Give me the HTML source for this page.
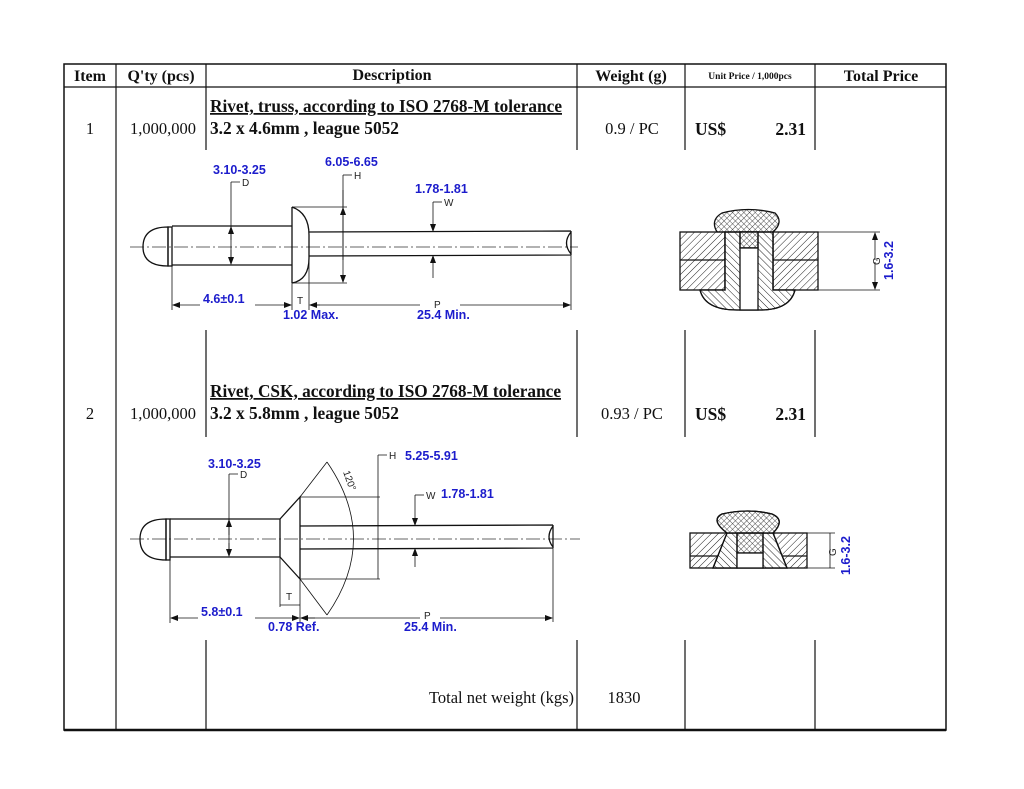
<!DOCTYPE html>
<html><head><meta charset="utf-8"><style>
html,body{margin:0;padding:0;background:#fff;}
svg{display:block;}
.s{font-family:"Liberation Serif",serif;fill:#111;}
.b{font-family:"Liberation Sans",sans-serif;font-weight:bold;fill:#1c1ccc;font-size:12.5px;}
.k{font-family:"Liberation Sans",sans-serif;fill:#222;font-size:10px;}
.ln{stroke:#111;fill:none;stroke-width:1.3;}
.th{stroke:#111;fill:none;stroke-width:0.8;}
.cl{stroke:#333;stroke-width:0.8;stroke-dasharray:14 3 2 3;fill:none;}
</style></head><body>
<svg width="1024" height="789" viewBox="0 0 1024 789" xmlns="http://www.w3.org/2000/svg">
<defs>
<marker id="a" markerWidth="8" markerHeight="6" refX="7" refY="3" orient="auto" markerUnits="userSpaceOnUse"><path d="M0,0 L8,3 L0,6 Z" fill="#111"/></marker>
<pattern id="h1" width="5" height="5" patternUnits="userSpaceOnUse" patternTransform="rotate(45)"><line x1="0" y1="0" x2="0" y2="5" stroke="#222" stroke-width="1"/></pattern>
<pattern id="h2" width="5" height="5" patternUnits="userSpaceOnUse" patternTransform="rotate(-45)"><line x1="0" y1="0" x2="0" y2="5" stroke="#222" stroke-width="1"/></pattern>
<pattern id="hx" width="4" height="4" patternUnits="userSpaceOnUse" patternTransform="rotate(45)"><path d="M0,0 V4 M0,0 H4" stroke="#222" stroke-width="0.8"/></pattern>
</defs>
<rect width="1024" height="789" fill="#fff"/>
<g stroke="#111" fill="none">
<rect x="64" y="64" width="882" height="666" stroke-width="1.5"/>
<line x1="64" y1="730" x2="946" y2="730" stroke-width="2.5"/>
<line x1="64" y1="87" x2="946" y2="87" stroke-width="1.2"/>
<line x1="116" y1="64" x2="116" y2="730" stroke-width="1.2"/>
<g stroke-width="1.2">
<line x1="206" y1="64" x2="206" y2="150"/><line x1="206" y1="330" x2="206" y2="437"/><line x1="206" y1="640" x2="206" y2="730"/>
<line x1="577" y1="64" x2="577" y2="150"/><line x1="577" y1="330" x2="577" y2="437"/><line x1="577" y1="640" x2="577" y2="730"/>
<line x1="685" y1="64" x2="685" y2="150"/><line x1="685" y1="330" x2="685" y2="437"/><line x1="685" y1="640" x2="685" y2="730"/>
<line x1="815" y1="64" x2="815" y2="150"/><line x1="815" y1="330" x2="815" y2="437"/><line x1="815" y1="640" x2="815" y2="730"/>
</g></g>
<g class="s" font-weight="bold" font-size="16">
<text x="90" y="81" text-anchor="middle">Item</text>
<text x="161" y="81" text-anchor="middle">Q'ty (pcs)</text>
<text x="392" y="80" text-anchor="middle">Description</text>
<text x="631" y="81" text-anchor="middle">Weight (g)</text>
<text x="750" y="79" text-anchor="middle" font-size="9.5">Unit Price / 1,000pcs</text>
<text x="881" y="81" text-anchor="middle">Total Price</text>
</g>
<g class="s" font-weight="bold" font-size="17.5">
<text x="210" y="112" text-decoration="underline" textLength="352" lengthAdjust="spacingAndGlyphs">Rivet, truss, according to ISO 2768-M tolerance</text>
<text x="210" y="134" textLength="189" lengthAdjust="spacingAndGlyphs">3.2 x 4.6mm , league 5052</text>
<text x="695" y="135">US$</text><text x="806" y="135" text-anchor="end">2.31</text>
<text x="210" y="397" text-decoration="underline" textLength="351" lengthAdjust="spacingAndGlyphs">Rivet, CSK, according to ISO 2768-M tolerance</text>
<text x="210" y="419" textLength="189" lengthAdjust="spacingAndGlyphs">3.2 x 5.8mm , league 5052</text>
<text x="695" y="420">US$</text><text x="806" y="420" text-anchor="end">2.31</text>
</g>
<g class="s" font-size="16.5">
<text x="90" y="134" text-anchor="middle">1</text>
<text x="163" y="134" text-anchor="middle">1,000,000</text>
<text x="632" y="134" text-anchor="middle">0.9 / PC</text>
<text x="90" y="419" text-anchor="middle">2</text>
<text x="163" y="419" text-anchor="middle">1,000,000</text>
<text x="632" y="419" text-anchor="middle">0.93 / PC</text>
<text x="574" y="703" text-anchor="end">Total net weight (kgs)</text>
<text x="624" y="703" text-anchor="middle">1830</text>
</g>

<!-- Rivet 1 -->
<line class="cl" x1="130" y1="247" x2="578" y2="247"/>
<path class="ln" d="M168,227 Q143,227 143,247 Q143,266 168,266 Z"/>
<rect class="ln" x="168" y="227" width="4" height="39"/>
<path class="ln" d="M172,226 L292,226 M172,265 L292,265"/>
<path class="ln" d="M292,207 L292,283 M292,207 Q309,213 309,235 L309,258 Q309,280 292,283"/>
<path class="ln" d="M309,232 L571,231 M309,256 L571,255 M571,231 L571,255 M571,232 Q562,243 571,254"/>
<path class="th" d="M292,207 L347,207 M292,283 L347,283"/>
<line class="th" x1="343" y1="175" x2="343" y2="207" /><line class="th" x1="343" y1="175" x2="352" y2="175"/>
<line class="th" x1="343" y1="190" x2="343" y2="282" marker-end="url(#a)"/>
<line class="th" x1="343" y1="260" x2="343" y2="208" marker-end="url(#a)"/>
<text class="k" x="354" y="179">H</text>
<text class="b" x="325" y="166">6.05-6.65</text>
<path class="th" d="M231,182 L231,264 M231,182 L240,182"/>
<line class="th" x1="231" y1="240" x2="231" y2="227" marker-end="url(#a)"/>
<line class="th" x1="231" y1="250" x2="231" y2="264" marker-end="url(#a)"/>
<text class="k" x="242" y="186">D</text>
<text class="b" x="213" y="174">3.10-3.25</text>
<path class="th" d="M433,202 L442,202"/>
<line class="th" x1="433" y1="202" x2="433" y2="231" marker-end="url(#a)"/>
<line class="th" x1="433" y1="278" x2="433" y2="256" marker-end="url(#a)"/>
<text class="k" x="444" y="206">W</text>
<text class="b" x="415" y="193">1.78-1.81</text>
<path class="th" d="M172,265 L172,310 M292,283 L292,310 M309,258 L309,310 M571,255 L571,310"/>
<line class="th" x1="200" y1="305" x2="173" y2="305" marker-end="url(#a)"/>
<line class="th" x1="255" y1="305" x2="291" y2="305" marker-end="url(#a)"/>
<line class="th" x1="320" y1="305" x2="310" y2="305" marker-end="url(#a)"/>
<line class="th" x1="460" y1="305" x2="570" y2="305" marker-end="url(#a)"/>
<line class="th" x1="310" y1="305" x2="420" y2="305"/>
<text class="b" x="203" y="303">4.6±0.1</text>
<text class="k" x="297" y="304">T</text>
<text class="k" x="434" y="308">P</text>
<text class="b" x="283" y="319">1.02 Max.</text>
<text class="b" x="417" y="319">25.4 Min.</text>

<!-- Rivet 2 -->
<line class="cl" x1="130" y1="539" x2="580" y2="539"/>
<path class="ln" d="M166,519 Q140,519 140,539 Q140,560 166,560 Z"/>
<rect class="ln" x="166" y="519" width="4" height="41"/>
<path class="ln" d="M170,519 L280,519 M170,557 L280,557 M280,519 L280,557"/>
<path class="ln" d="M280,519 L300,497 L300,579 L280,557"/>
<path class="th" d="M300,497 L327,462 M300,579 L327,615"/>
<path class="th" d="M327,462 Q380,539 327,615"/>
<text class="k" transform="translate(343,472) rotate(70)">120°</text>
<path class="ln" d="M300,526 L553,525 M300,549 L553,548 M553,525 L553,548 M553,526 Q545,537 553,547"/>
<path class="th" d="M300,497 L380,497 M300,579 L380,579"/>
<path class="th" d="M378,455 L378,579 M378,455 L387,455"/>
<text class="k" x="389" y="459">H</text>
<text class="b" x="405" y="460">5.25-5.91</text>
<path class="th" d="M415,495 L424,495"/>
<line class="th" x1="415" y1="495" x2="415" y2="525" marker-end="url(#a)"/>
<line class="th" x1="415" y1="567" x2="415" y2="549" marker-end="url(#a)"/>
<text class="k" x="426" y="499">W</text>
<text class="b" x="441" y="498">1.78-1.81</text>
<path class="th" d="M229,474 L229,556 M229,474 L238,474"/>
<line class="th" x1="229" y1="535" x2="229" y2="520" marker-end="url(#a)"/>
<line class="th" x1="229" y1="543" x2="229" y2="556" marker-end="url(#a)"/>
<text class="k" x="240" y="478">D</text>
<text class="b" x="208" y="468">3.10-3.25</text>
<path class="th" d="M280,557 L280,607 M300,579 L300,622 M170,557 L170,623 M553,548 L553,622"/>
<line class="th" x1="280" y1="605" x2="300" y2="605"/>
<text class="k" x="286" y="600">T</text>
<line class="th" x1="198" y1="618" x2="171" y2="618" marker-end="url(#a)"/>
<line class="th" x1="255" y1="618" x2="299" y2="618" marker-end="url(#a)"/>
<line class="th" x1="315" y1="618" x2="301" y2="618" marker-end="url(#a)"/>
<line class="th" x1="440" y1="618" x2="552" y2="618" marker-end="url(#a)"/>
<line class="th" x1="301" y1="618" x2="420" y2="618"/>
<text class="b" x="201" y="616">5.8±0.1</text>
<text class="k" x="424" y="619">P</text>
<text class="b" x="268" y="631">0.78 Ref.</text>
<text class="b" x="404" y="631">25.4 Min.</text>

<!-- section 1 -->
<g stroke="#111" stroke-width="1.3">
<rect x="680" y="232" width="45" height="58" fill="url(#h1)"/>
<line x1="680" y1="260" x2="725" y2="260"/>
<rect x="773" y="232" width="45" height="58" fill="url(#h1)"/>
<line x1="773" y1="260" x2="818" y2="260"/>
<path d="M700,290 L725,290 L725,232 L773,232 L773,290 L795,290 Q790,310 760,310 L737,310 Q705,310 700,290 Z" fill="#fff"/>
<path d="M700,290 L725,290 L725,232 L773,232 L773,290 L795,290 Q790,310 760,310 L737,310 Q705,310 700,290 Z" fill="url(#h2)"/>
<path d="M725,232 L717,232 Q710,220 722,213 Q748,206 775,213 Q784,222 773,232 Z" fill="url(#hx)"/>
<rect x="740" y="232" width="18" height="16" fill="#fff"/>
<rect x="740" y="232" width="18" height="16" fill="url(#hx)"/>
<rect x="740" y="248" width="18" height="62" fill="#fff"/>
</g>
<path class="th" d="M818,232 L880,232 M818,290 L880,290"/>
<line class="th" x1="875" y1="260" x2="875" y2="233" marker-end="url(#a)"/>
<line class="th" x1="875" y1="262" x2="875" y2="289" marker-end="url(#a)"/>
<text class="k" transform="translate(880,265) rotate(-90)" font-size="9">G</text>
<text class="b" transform="translate(893,280) rotate(-90)" font-size="12">1.6-3.2</text>
<!-- section 2 -->
<g stroke="#111" stroke-width="1.3">
<rect x="690" y="533" width="117" height="35" fill="url(#h1)"/>
<line x1="690" y1="556" x2="807" y2="556"/>
<path d="M727,533 L773,533 L787,568 L713,568 Z" fill="#fff"/>
<path d="M727,533 L737,533 L737,568 L713,568 Z M763,533 L773,533 L787,568 L763,568 Z" fill="url(#h2)"/>
<path d="M727,533 Q710,520 722,514 Q748,508 772,514 Q786,520 773,533 Z" fill="#fff"/>
<path d="M727,533 Q710,520 722,514 Q748,508 772,514 Q786,520 773,533 Z" fill="url(#hx)"/>
<rect x="737" y="533" width="26" height="20" fill="url(#hx)"/>
<rect x="737" y="553" width="26" height="15" fill="#fff"/>
</g>
<path class="th" d="M807,533 L835,533 M807,568 L835,568 M830,533 L830,568"/>
<text class="k" transform="translate(836,556) rotate(-90)" font-size="9">G</text>
<text class="b" transform="translate(850,575) rotate(-90)" font-size="12">1.6-3.2</text>
</svg>
</body></html>
